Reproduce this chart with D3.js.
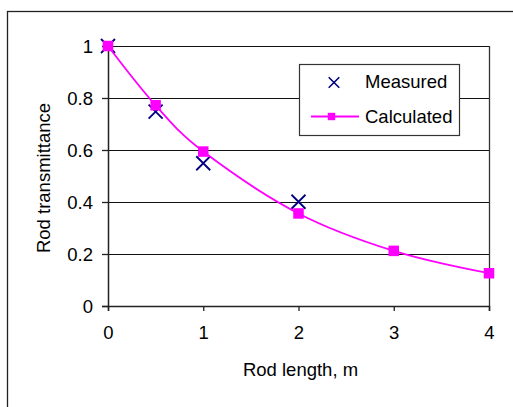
<!DOCTYPE html>
<html>
<head>
<meta charset="utf-8">
<script src="https://cdn.jsdelivr.net/npm/d3@7"></script>
<style>
  html, body { margin: 0; padding: 0; background: #fff; }
  svg { display: block; font-family: "Liberation Sans", Arial, sans-serif; }
</style>
</head>
<body>
<script>
// ---- data ----
const calcLengths = [0, 0.5, 1, 2, 3, 4];
const calculated = [1.0, 0.772, 0.594, 0.356, 0.212, 0.126];
const measLengths = [0, 0.5, 1, 2];
const measured = [1.0, 0.748, 0.549, 0.401];
const xTicks = [0, 1, 2, 3, 4];
const yTicks = [0, 0.2, 0.4, 0.6, 0.8, 1];
const seriesNames = ["Measured", "Calculated"];
const xTitle = "Rod length, m";
const yTitle = "Rod transmittance";

const W = 513, H = 407;
const FS = 18.5;
const svg = d3.select("body").append("svg").attr("width", W).attr("height", H);

// outer chart border (extends beyond right/bottom)
svg.append("rect").attr("x", 7.5).attr("y", 11.5).attr("width", 560).attr("height", 460)
  .attr("fill", "#fff").attr("stroke", "#222").attr("stroke-width", 1.3);

const x = d3.scaleLinear().domain([0, 4]).range([108, 489]);
const y = d3.scaleLinear().domain([0, 1]).range([306, 46]);
const fmt = d => String(+(+d).toFixed(1));

// gridlines
svg.append("g").selectAll("line").data(yTicks.filter(d => d > 0)).join("line")
  .attr("x1", x(0)).attr("x2", x(4))
  .attr("y1", d => Math.round(y(d)) + 0.5).attr("y2", d => Math.round(y(d)) + 0.5)
  .attr("stroke", "#111").attr("stroke-width", 1.2);

// plot area right border
svg.append("line").attr("x1", x(4) + 0.5).attr("x2", x(4) + 0.5)
  .attr("y1", y(1)).attr("y2", y(0)).attr("stroke", "#333").attr("stroke-width", 1.3);

// y axis
const yAxis = svg.append("g").attr("transform", `translate(${x(0)},0)`)
  .call(d3.axisLeft(y).tickValues(yTicks).tickSize(6).tickPadding(9).tickFormat(fmt));
yAxis.select(".domain").attr("stroke", "#222").attr("stroke-width", 1.5);
yAxis.selectAll(".tick line").attr("stroke", "#222").attr("stroke-width", 1.3);
yAxis.selectAll(".tick text").attr("font-size", FS).attr("fill", "#000")
  .attr("font-family", "Liberation Sans, Arial, sans-serif").attr("dy", "0.34em");

// x axis
const xAxis = svg.append("g").attr("transform", `translate(0,${y(0)})`)
  .call(d3.axisBottom(x).tickValues(xTicks).tickSize(5).tickPadding(15).tickFormat(fmt));
xAxis.select(".domain").attr("stroke", "#222").attr("stroke-width", 1.5);
xAxis.selectAll(".tick line").attr("stroke", "#222").attr("stroke-width", 1.3);
xAxis.selectAll(".tick text").attr("font-size", FS).attr("fill", "#000")
  .attr("font-family", "Liberation Sans, Arial, sans-serif");

// axis titles
svg.append("text").attr("x", (x(0) + x(4)) / 2 + 2).attr("y", 376)
  .attr("text-anchor", "middle").attr("font-size", FS).attr("fill", "#000").text(xTitle);
svg.append("text").attr("transform", `translate(49.5,${(y(0) + y(1)) / 2 + 2}) rotate(-90)`)
  .attr("text-anchor", "middle").attr("font-size", FS).attr("fill", "#000").text(yTitle);

const navy = "#000080", magenta = "#ff00ff";

// measured X markers
const xs = 7;
const measData = measLengths.map((l, i) => [l, measured[i]]);
svg.append("g").selectAll("path").data(measData).join("path")
  .attr("d", d => {
    const cx = x(d[0]), cy = y(d[1]);
    return `M${cx - xs},${cy - xs}L${cx + xs},${cy + xs}M${cx - xs},${cy + xs}L${cx + xs},${cy - xs}`;
  })
  .attr("stroke", navy).attr("stroke-width", 1.8).attr("fill", "none");

// calculated smooth line
const calcData = calcLengths.map((l, i) => [l, calculated[i]]);
const line = d3.line().x(d => x(d[0])).y(d => y(d[1])).curve(d3.curveCardinal.tension(0));
svg.append("path").datum(calcData).attr("d", line)
  .attr("stroke", magenta).attr("stroke-width", 1.8).attr("fill", "none");
const sq = 10.5;
svg.append("g").selectAll("rect").data(calcData).join("rect")
  .attr("x", d => x(d[0]) - sq / 2).attr("y", d => y(d[1]) - sq / 2)
  .attr("width", sq).attr("height", sq).attr("fill", magenta);

// legend
const lg = svg.append("g");
lg.append("rect").attr("x", 299.5).attr("y", 64.5).attr("width", 160).attr("height", 71)
  .attr("fill", "#fff").attr("stroke", "#333").attr("stroke-width", 1.2);
const lx = 334, ly1 = 82.5, ly2 = 116.5, ls = 5.3;
lg.append("path")
  .attr("d", `M${lx - ls},${ly1 - ls}L${lx + ls},${ly1 + ls}M${lx - ls},${ly1 + ls}L${lx + ls},${ly1 - ls}`)
  .attr("stroke", navy).attr("stroke-width", 1.6).attr("fill", "none");
lg.append("line").attr("x1", 311).attr("x2", 359).attr("y1", ly2).attr("y2", ly2)
  .attr("stroke", magenta).attr("stroke-width", 1.8);
lg.append("rect").attr("x", 331.5 - 3.7).attr("y", ly2 - 3.7).attr("width", 7.4).attr("height", 7.4)
  .attr("fill", magenta);
lg.append("text").attr("x", 365).attr("y", 87.5).attr("font-size", FS).attr("fill", "#000").text(seriesNames[0]);
lg.append("text").attr("x", 365).attr("y", 122.5).attr("font-size", FS).attr("fill", "#000").text(seriesNames[1]);
</script>
</body>
</html>
